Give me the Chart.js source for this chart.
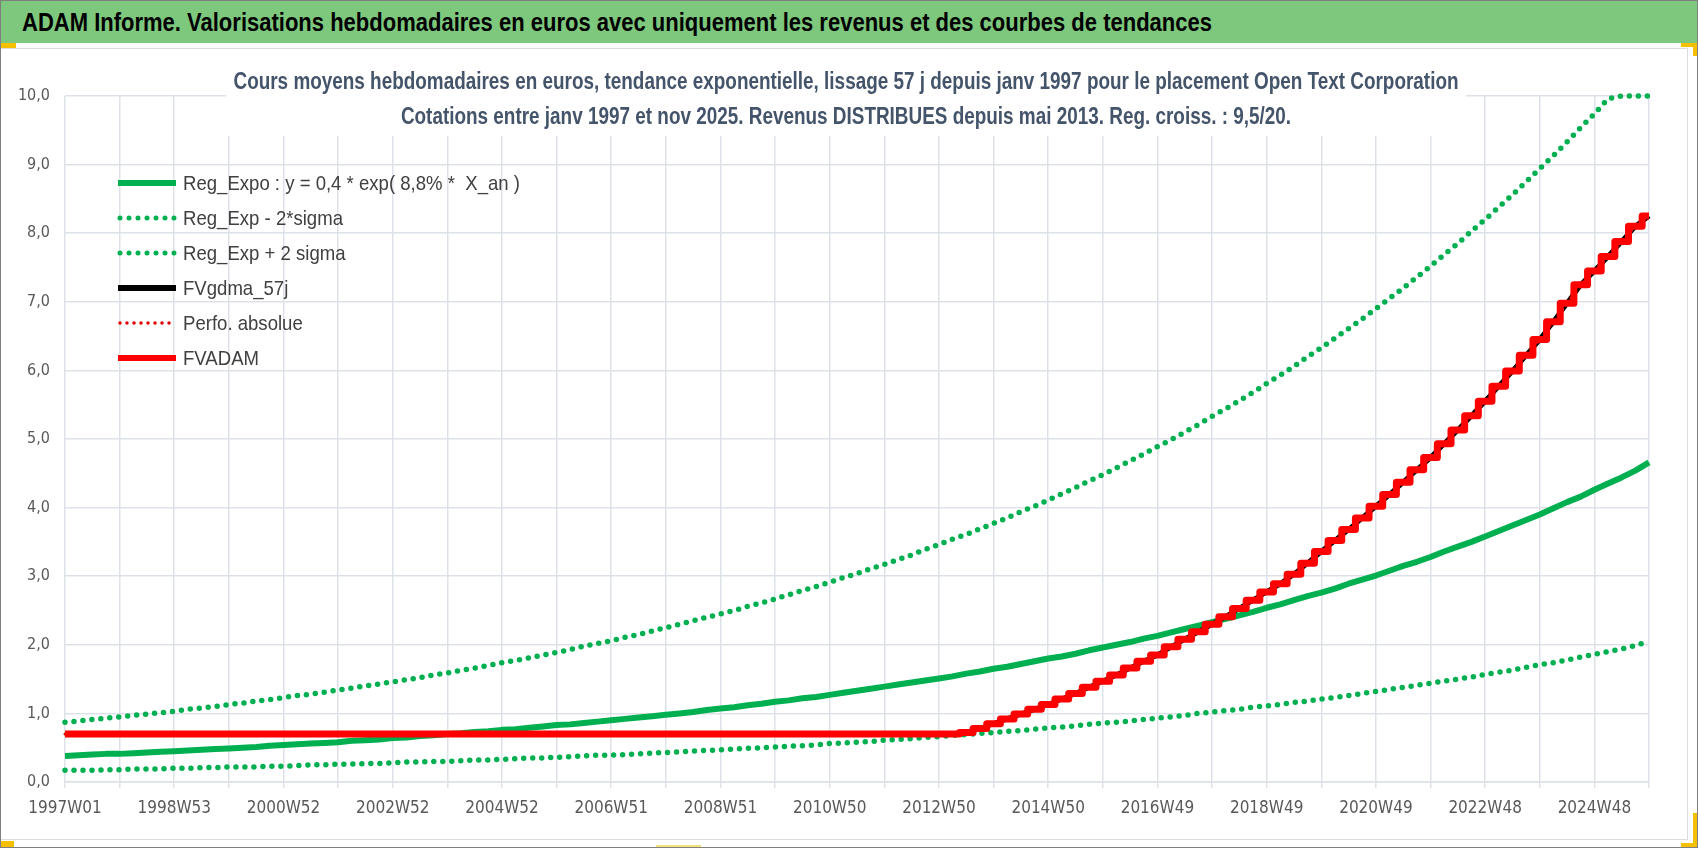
<!DOCTYPE html>
<html>
<head>
<meta charset="utf-8">
<title>ADAM Informe - Open Text Corporation</title>
<script src="https://cdn.jsdelivr.net/npm/chart.js@4.4.1/dist/chart.umd.min.js"></script>
<style>
  html, body { margin: 0; padding: 0; background: #fff; }
  #page { position: relative; width: 1698px; height: 848px; overflow: hidden; box-sizing: border-box; border: 1px solid #7f7f7f; }
  #banner { position: absolute; left: 0; top: 0; width: 1696px; height: 42px; background: #7dc87d; color: #000;
            font: bold 25px 'Liberation Sans', Arial, sans-serif;
            line-height: 42px; padding-left: 21px; box-sizing: border-box; white-space: nowrap; }
  #bannerText { display: inline-block; transform-origin: 0 50%; }
  #frame { position: absolute; left: 0; top: 47px; width: 1687px; height: 792px; box-sizing: border-box;
           border-top: 1px solid #dcdcdc; border-right: 1px solid #dcdcdc; border-bottom: 1px solid #dcdcdc; }
  #wrap { position: absolute; left: 0; top: 48px; width: 1686px; height: 790px; }
  .mark { position: absolute; background: #f5c000; }
</style>
</head>
<body>
<div id="page">
  <div id="banner"><span id="bannerText">ADAM Informe. Valorisations hebdomadaires en euros avec uniquement les revenus et des courbes de tendances</span></div>
  <div id="frame"></div>
  <div id="wrap"><canvas id="myChart"></canvas></div>
  <div class="mark" style="left:0;top:42px;width:15px;height:5px"></div>
  <div class="mark" style="left:1680px;top:42px;width:17px;height:4px"></div>
  <div class="mark" style="left:1692px;top:42px;width:5px;height:13px"></div>
  <div class="mark" style="left:0;top:840px;width:13px;height:7px"></div>
  <div class="mark" style="left:1692px;top:812px;width:5px;height:35px"></div>
  <div class="mark" style="left:1680px;top:842px;width:17px;height:5px"></div>
  <div class="mark" style="left:655px;top:844px;width:45px;height:3px;background:#f7e27a"></div>
</div>

<script>
// DATA (one point every 13 weeks, 1997W01 .. nov 2025)
var weekTicks = ['1997W01', '1998W53', '2000W52', '2002W52', '2004W52', '2006W51', '2008W51', '2010W50',
                 '2012W50', '2014W50', '2016W49', '2018W49', '2020W49', '2022W48', '2024W48'];

var regExpo = [
  0.38, 0.39, 0.40, 0.41, 0.41, 0.42, 0.43, 0.44, 0.45, 0.46,
  0.47, 0.48, 0.49, 0.50, 0.51, 0.53, 0.54, 0.55, 0.56, 0.57,
  0.58, 0.60, 0.61, 0.62, 0.64, 0.65, 0.67, 0.68, 0.70, 0.71,
  0.73, 0.74, 0.76, 0.77, 0.79, 0.81, 0.83, 0.84, 0.86, 0.88,
  0.90, 0.92, 0.94, 0.96, 0.98, 1.00, 1.02, 1.05, 1.07, 1.09,
  1.12, 1.14, 1.17, 1.19, 1.22, 1.24, 1.27, 1.30, 1.33, 1.36,
  1.39, 1.42, 1.45, 1.48, 1.51, 1.54, 1.58, 1.61, 1.65, 1.68,
  1.72, 1.76, 1.80, 1.83, 1.87, 1.92, 1.96, 2.00, 2.04, 2.09,
  2.13, 2.18, 2.23, 2.28, 2.33, 2.38, 2.43, 2.48, 2.54, 2.59,
  2.65, 2.71, 2.76, 2.82, 2.89, 2.95, 3.01, 3.08, 3.15, 3.21,
  3.28, 3.36, 3.43, 3.50, 3.58, 3.66, 3.74, 3.82, 3.90, 3.99,
  4.08, 4.16, 4.26, 4.35, 4.44, 4.54, 4.66
];

var regMinus2s = [
  0.17, 0.17, 0.17, 0.18, 0.18, 0.19, 0.19, 0.19, 0.20, 0.20,
  0.21, 0.21, 0.22, 0.22, 0.22, 0.23, 0.23, 0.24, 0.25, 0.25,
  0.26, 0.26, 0.27, 0.27, 0.28, 0.29, 0.29, 0.30, 0.30, 0.31,
  0.32, 0.32, 0.33, 0.34, 0.35, 0.35, 0.36, 0.37, 0.38, 0.39,
  0.39, 0.40, 0.41, 0.42, 0.43, 0.44, 0.45, 0.46, 0.47, 0.48,
  0.49, 0.50, 0.51, 0.52, 0.53, 0.54, 0.56, 0.57, 0.58, 0.59,
  0.61, 0.62, 0.63, 0.65, 0.66, 0.68, 0.69, 0.71, 0.72, 0.74,
  0.75, 0.77, 0.79, 0.80, 0.82, 0.84, 0.86, 0.87, 0.89, 0.91,
  0.93, 0.95, 0.97, 1.00, 1.02, 1.04, 1.06, 1.09, 1.11, 1.13,
  1.16, 1.18, 1.21, 1.23, 1.26, 1.29, 1.32, 1.35, 1.38, 1.41,
  1.44, 1.47, 1.50, 1.53, 1.57, 1.60, 1.63, 1.67, 1.71, 1.74,
  1.78, 1.82, 1.86, 1.90, 1.94, 1.99, 2.05
];

var regPlus2s = [
  0.87, 0.89, 0.91, 0.93, 0.95, 0.97, 0.99, 1.01, 1.03, 1.06,
  1.08, 1.10, 1.13, 1.15, 1.18, 1.20, 1.23, 1.26, 1.28, 1.31,
  1.34, 1.37, 1.40, 1.43, 1.46, 1.49, 1.52, 1.56, 1.59, 1.63,
  1.66, 1.70, 1.74, 1.77, 1.81, 1.85, 1.89, 1.93, 1.98, 2.02,
  2.06, 2.11, 2.15, 2.20, 2.25, 2.30, 2.35, 2.40, 2.45, 2.50,
  2.56, 2.61, 2.67, 2.73, 2.79, 2.85, 2.91, 2.98, 3.04, 3.11,
  3.17, 3.24, 3.31, 3.39, 3.46, 3.54, 3.61, 3.69, 3.77, 3.85,
  3.94, 4.02, 4.11, 4.20, 4.29, 4.39, 4.48, 4.58, 4.68, 4.78,
  4.89, 4.99, 5.10, 5.21, 5.33, 5.44, 5.56, 5.68, 5.81, 5.93,
  6.06, 6.20, 6.33, 6.47, 6.61, 6.75, 6.90, 7.05, 7.20, 7.36,
  7.52, 7.69, 7.85, 8.03, 8.20, 8.38, 8.56, 8.75, 8.94, 9.13,
  9.33, 9.54, 9.74, 9.96, 10.0, 10.0, 10.0
];

var fvAdam = [
  0.70, 0.70, 0.70, 0.70, 0.70, 0.70, 0.70, 0.70, 0.70, 0.70,
  0.70, 0.70, 0.70, 0.70, 0.70, 0.70, 0.70, 0.70, 0.70, 0.70,
  0.70, 0.70, 0.70, 0.70, 0.70, 0.70, 0.70, 0.70, 0.70, 0.70,
  0.70, 0.70, 0.70, 0.70, 0.70, 0.70, 0.70, 0.70, 0.70, 0.70,
  0.70, 0.70, 0.70, 0.70, 0.70, 0.70, 0.70, 0.70, 0.70, 0.70,
  0.70, 0.70, 0.70, 0.70, 0.70, 0.70, 0.70, 0.70, 0.70, 0.70,
  0.70, 0.70, 0.70, 0.70, 0.70, 0.70, 0.72, 0.78, 0.85, 0.92,
  0.99, 1.06, 1.13, 1.21, 1.29, 1.38, 1.47, 1.56, 1.66, 1.76,
  1.85, 1.97, 2.08, 2.19, 2.30, 2.41, 2.53, 2.65, 2.77, 2.89,
  3.03, 3.19, 3.36, 3.52, 3.68, 3.85, 4.02, 4.19, 4.37, 4.55,
  4.73, 4.93, 5.13, 5.34, 5.55, 5.77, 5.99, 6.22, 6.45, 6.71,
  6.98, 7.25, 7.45, 7.66, 7.88, 8.10, 8.25
];

// the 57j smoothing and the absolute perf sit right under FVADAM in the picture
var fvGdma57 = fvAdam;
var perfoAbsolue = fvAdam;

var titleLines = [
  'Cours moyens hebdomadaires en euros, tendance exponentielle, lissage 57 j depuis janv 1997 pour le placement Open Text Corporation',
  'Cotations entre janv 1997 et nov 2025. Revenus DISTRIBUES depuis mai 2013. Reg. croiss. : 9,5/20.'
];

// STYLE
var SANS = "'Liberation Sans', Arial, sans-serif";
var COND = "'DejaVu Sans Condensed', 'Liberation Sans', sans-serif";
var GRID = '#dde1e8';
var GREEN = '#00b050';
var TICKS_PER_LABEL = 8;   // 8 x 13 weeks = 104 weeks between labels
var TICKS_PER_GRID = 4;    // a grid line every year

// the original uses a narrow font: squeeze the banner to its width
var bannerText = document.getElementById('bannerText');
bannerText.style.transform = 'scaleX(' + (1190 / bannerText.getBoundingClientRect().width) + ')';

var labels = regExpo.map(function (v, i) {
  return i % TICKS_PER_LABEL === 0 ? (weekTicks[i / TICKS_PER_LABEL] || '') : '';
});

// title drawn inside the plot with a white box behind it
var titlePlugin = {
  id: 'boxTitle',
  beforeDatasetsDraw: function (chart) {
    var ctx = chart.ctx;
    ctx.save();
    ctx.fillStyle = '#fff';
    ctx.fillRect(225, 17, 1240, 70);
    ctx.fillStyle = '#44546a';
    ctx.font = 'bold 23px ' + SANS;
    ctx.textAlign = 'center';
    ctx.textBaseline = 'middle';
    var sx = 1225 / ctx.measureText(titleLines[0]).width;
    [34, 69].forEach(function (y, k) {
      ctx.save();
      ctx.translate(845, y);
      ctx.scale(sx, 1);
      ctx.fillText(titleLines[k], 0, 0);
      ctx.restore();
    });
    ctx.restore();
  }
};

// legend drawn in the top left corner of the plot
var legendPlugin = {
  id: 'insideLegend',
  afterDraw: function (chart) {
    var ctx = chart.ctx;
    var dsets = chart.data.datasets;
    ctx.save();
    ctx.font = '21px ' + SANS;
    var sx = Math.min(1, 337 / ctx.measureText(dsets[0].label).width);
    dsets.forEach(function (ds, i) {
      var y = 134 + i * 35;
      ctx.beginPath();
      ctx.strokeStyle = ds.borderColor;
      ctx.lineWidth = ds.legendWidth;
      ctx.lineCap = ds.borderCapStyle || 'butt';
      ctx.setLineDash(ds.borderDash || []);
      ctx.moveTo(ds.borderDash ? 119 : 117, y);
      ctx.lineTo(175, y);
      ctx.stroke();
      ctx.setLineDash([]);
      ctx.fillStyle = '#404040';
      ctx.textAlign = 'left';
      ctx.textBaseline = 'middle';
      ctx.save();
      ctx.translate(182, y + 1);
      ctx.scale(sx, 1);
      ctx.fillText(ds.label, 0, 0);
      ctx.restore();
    });
    ctx.restore();
  }
};

var ctx = document.getElementById('myChart');
var myChart = new Chart(ctx, {
  type: 'line',
  data: {
    labels: labels,
    datasets: [
      { label: 'Reg_Expo : y = 0,4 * exp( 8,8% *  X_an )', data: regExpo, borderColor: GREEN,
        borderWidth: 6, legendWidth: 6, order: 3 },
      { label: 'Reg_Exp - 2*sigma', data: regMinus2s, borderColor: GREEN, borderWidth: 5.5, legendWidth: 5,
        borderDash: [0, 9], borderCapStyle: 'round', order: 4 },
      { label: 'Reg_Exp + 2 sigma', data: regPlus2s, borderColor: GREEN, borderWidth: 5.5, legendWidth: 5,
        borderDash: [0, 9], borderCapStyle: 'round', order: 5 },
      { label: 'FVgdma_57j', data: fvGdma57, borderColor: '#000', borderWidth: 5, legendWidth: 6, order: 2 },
      { label: 'Perfo. absolue', data: perfoAbsolue, borderColor: '#e00000', borderWidth: 3, legendWidth: 3.5,
        borderDash: [0, 7], borderCapStyle: 'round', order: 1 },
      { label: 'FVADAM', data: fvAdam, borderColor: '#ff0000', borderWidth: 7, legendWidth: 6,
        stepped: 'middle', order: 0 }
    ]
  },
  options: {
    responsive: true,
    maintainAspectRatio: false,
    animation: false,
    events: [],
    layout: { padding: { top: 47, right: 38, left: 0, bottom: 0 } },
    elements: {
      point: { radius: 0 },
      line: { tension: 0, fill: false, borderJoinStyle: 'round' }
    },
    datasets: { line: { clip: 8 } },
    plugins: {
      legend: { display: false },
      title: { display: false },
      tooltip: { enabled: false }
    },
    scales: {
      x: {
        offset: false,
        grid: {
          color: function (c) { return c.index % TICKS_PER_GRID === 0 ? GRID : 'rgba(0,0,0,0)'; },
          lineWidth: 1.5,
          tickLength: 6
        },
        border: { color: GRID, width: 1.5 },
        ticks: {
          autoSkip: false, maxRotation: 0, minRotation: 0, padding: 10,
          color: '#595959', font: { family: COND, size: 17 },
          callback: function (v, i) { return labels[i]; }
        },
        afterFit: function (s) { s.height = 57; }
      },
      y: {
        min: 0, max: 10,
        grid: { color: GRID, lineWidth: 1.5, drawTicks: false },
        border: { display: false },
        ticks: {
          stepSize: 1, padding: 15,
          color: '#595959', font: { family: COND, size: 16 },
          callback: function (v) { return v.toFixed(1).replace('.', ','); }
        },
        afterFit: function (s) { s.width = 64; }
      }
    }
  },
  plugins: [titlePlugin, legendPlugin]
});
</script>
</body>
</html>
